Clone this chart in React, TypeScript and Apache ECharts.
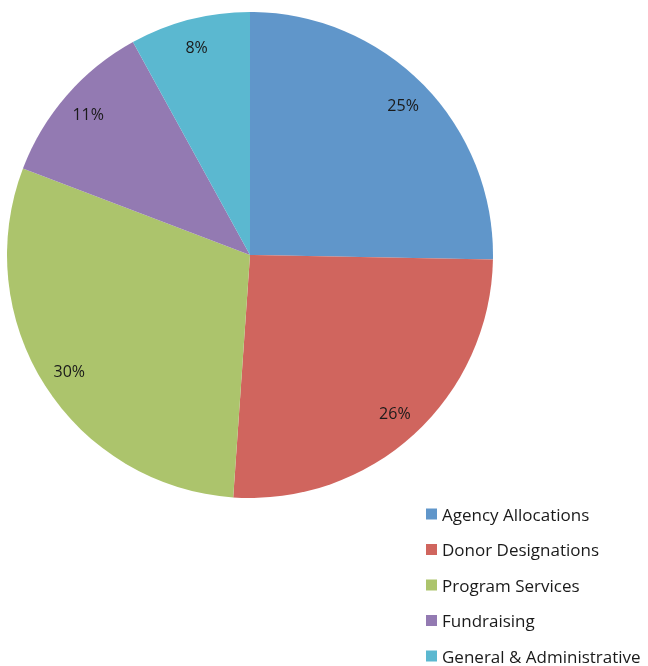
import React, { useEffect, useRef } from "react";
import * as echarts from "echarts";

const categories = [
  "Agency Allocations",
  "Donor Designations",
  "Program Services",
  "Fundraising",
  "General & Administrative",
];
const values = [25.3, 25.8, 29.7, 11.2, 8.0];
const colors = ["#6096CA", "#D0655E", "#ACC46C", "#937AB2", "#5BB8D0"];

export default function App() {
  const ref = useRef<HTMLDivElement>(null);
  useEffect(() => {
    if (!ref.current) return;
    const chart = echarts.init(ref.current, undefined, { renderer: "svg" });
    const data = categories.map((name, i) => ({
      name,
      value: values[i],
      itemStyle: { color: colors[i] },
    }));
    chart.setOption({
      animation: false,
      legend: {
        orient: "vertical",
        left: 426,
        top: 504,
        height: 170,
        padding: 0,
        icon: "rect",
        itemWidth: 11,
        itemHeight: 11,
        itemGap: 15.5,
        data: categories,
        textStyle: {
          fontFamily: "Open Sans",
          fontSize: 17,
          color: "#1a1a1a",
          lineHeight: 20,
        },
      },
      series: [
        {
          type: "pie",
          center: [250, 255],
          radius: 243,
          startAngle: 90,
          clockwise: true,
          label: { show: false },
          labelLine: { show: false },
          data,
        },
        {
          type: "pie",
          center: [250, 255],
          radius: [180, 243],
          startAngle: 90,
          clockwise: true,
          silent: true,
          legendHoverLink: false,
          itemStyle: { color: "transparent" },
          label: {
            show: true,
            position: "inside",
            formatter: (p: any) => `${Math.round(p.value)}%`,
            fontFamily: "Open Sans",
            fontSize: 16,
            color: "#1a1a1a",
          },
          labelLine: { show: false },
          data: categories.map((name, i) => ({ name, value: values[i] })),
        },
      ],
    });
    return () => chart.dispose();
  }, []);
  return (
    <div
      ref={ref}
      style={{ position: "fixed", left: 0, top: 0, width: 648, height: 666 }}
    />
  );
}
